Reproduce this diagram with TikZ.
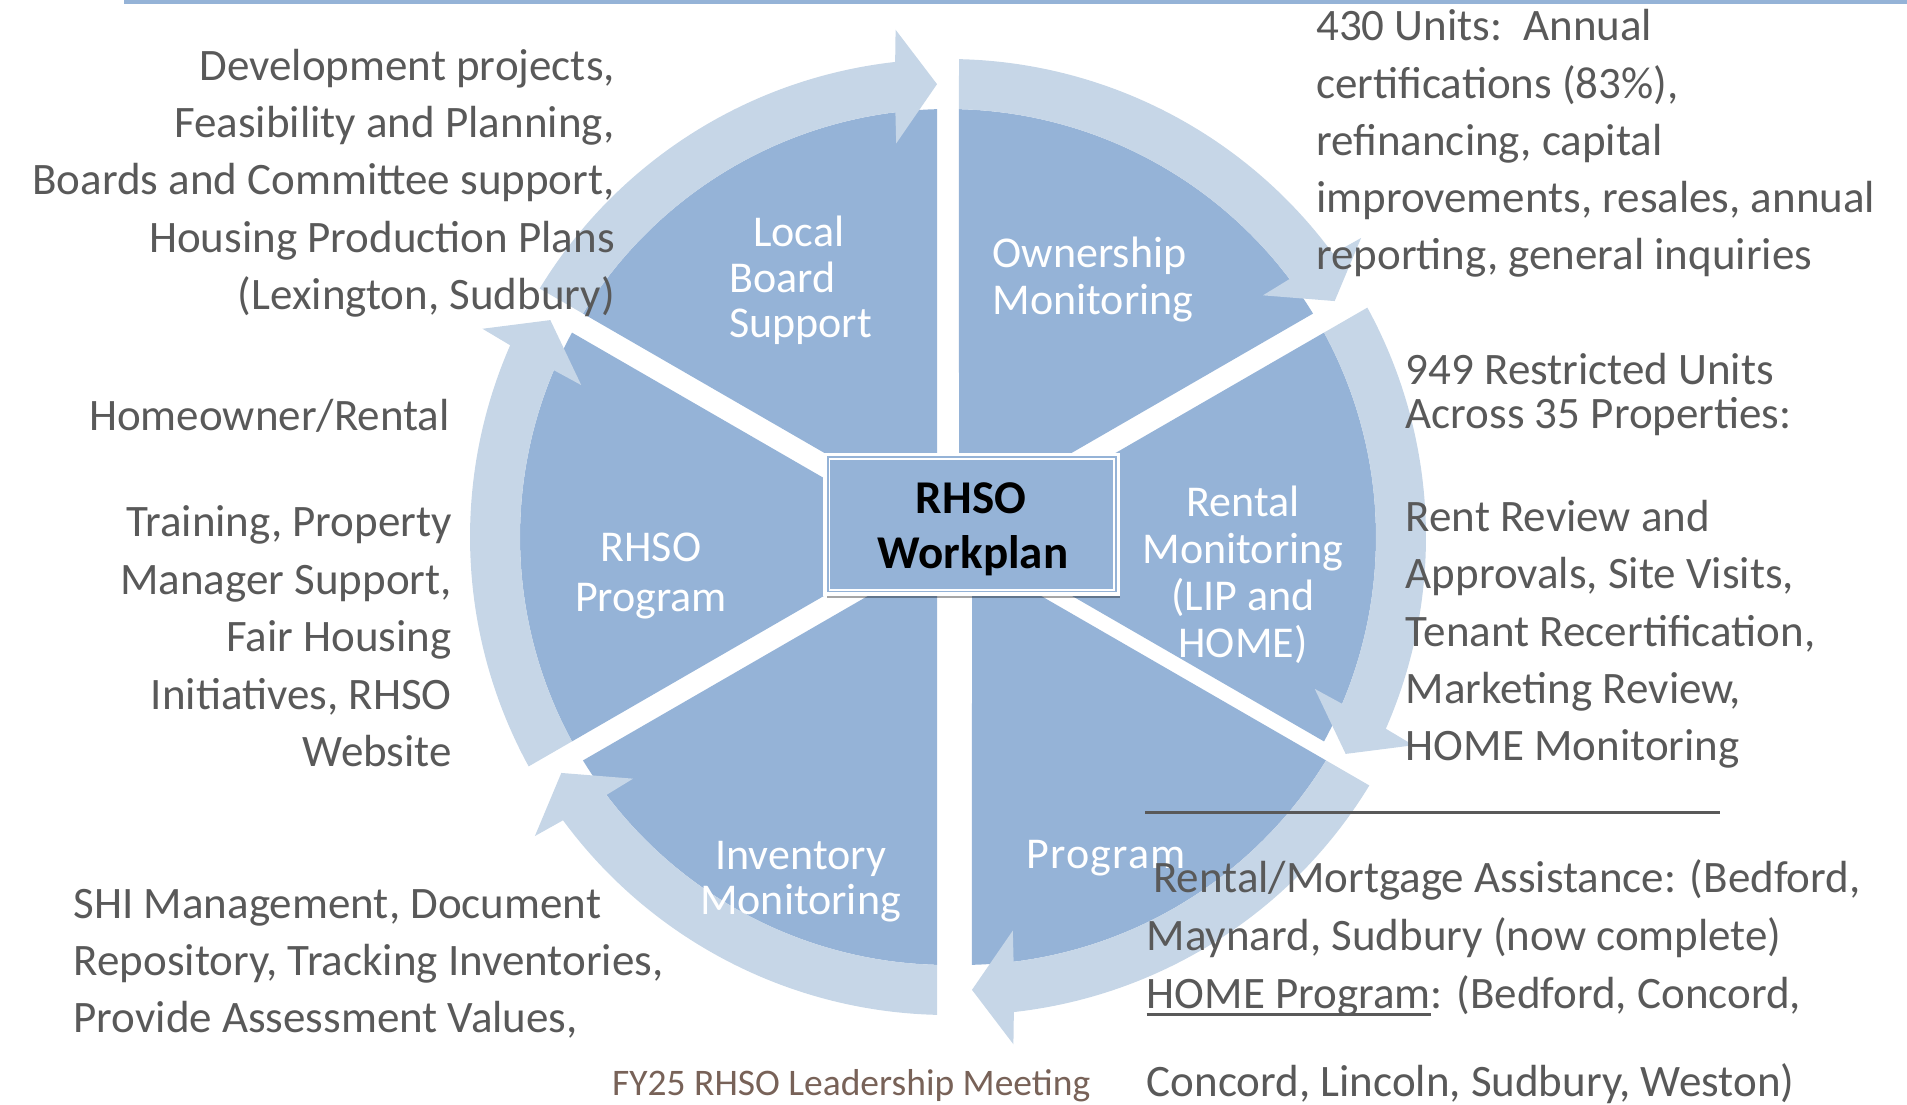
\documentclass[tikz,border=0pt]{standalone}
\usepackage{fontspec}
\setmainfont{Carlito}
\newfontfamily\spacedfont[LetterSpace=3]{Carlito}
\usetikzlibrary{calc,shadows}

\definecolor{sect}{RGB}{149,179,215}
\definecolor{arrowc}{RGB}{198,214,231}
\definecolor{txt}{RGB}{89,89,89}
\definecolor{foot}{RGB}{120,98,88}

% #1 = centre coordinate, #2 = angle of the head end of the segment
\newcommand{\ringsector}[2]{%
  \fill[sectorfill] ($(#1)+({#2+30}:22)$) -- ($(#1)+({#2+1.47}:428)$)
    arc[start angle={#2+1.47}, end angle={#2+58.53}, radius=428] -- cycle;}
\newcommand{\ringarrow}[2]{%
  \fill[arrowfill] ($(#1)+({#2+58.68}:478)$)
    arc[start angle={#2+58.68}, end angle={#2+6.35}, radius=478]
    -- ($(#1)+({#2+5.9}:510)$) -- ($(#1)+({#2+1.39}:453)$)
    -- ($(#1)+({#2+7.5}:397)$) -- ($(#1)+({#2+7.06}:428)$)
    arc[start angle={#2+7.06}, end angle={#2+58.53}, radius=428] -- cycle;}

\begin{document}
\begin{tikzpicture}[x=1pt,y=1pt,
  sectorfill/.style={fill=sect},
  arrowfill/.style={fill=arrowc},
  body/.style={text=txt, inner sep=0pt, font=\fontsize{45pt}{54pt}\selectfont},
  seclabel/.style={text=white, inner sep=0pt, font=\fontsize{44pt}{50pt}\selectfont},
  boxlabel/.style={text=black, inner sep=0pt, font=\fontsize{47pt}{52pt}\selectfont\bfseries},
]
\useasboundingbox (0,0) rectangle (1907,-1105);
\clip (0,0) rectangle (1907,-1105);

% top rule
\fill[sect] (124,0) rectangle (1907,-4);

% cycle
\coordinate (C) at (948,-537);
\coordinate (CP) at (961,-537);
\foreach \a in {30,90,150,210,330} {\ringsector{C}{\a}}
\ringsector{CP}{270}
\foreach \a in {30,90,150,210,330} {\ringarrow{C}{\a}}
\ringarrow{CP}{270}

% centre box
\node (box) at (971.7,-524.2) [fill=sect, draw=white, line width=3.5pt,
  minimum width=293.2pt, minimum height=139.5pt, inner sep=0pt,
  drop shadow={shadow xshift=2pt, shadow yshift=-4pt, opacity=0.35, fill=black}] {};
\draw[white, line width=1.7pt] ($(box.south west)+(6,6)$) rectangle ($(box.north east)+(-6,-6)$);
\node[boxlabel, anchor=base] (bt1) at (971,-513.3) {RHSO};
\node[boxlabel, anchor=base] (bt2) at (973,-568.3) {Workplan};

% segment labels
\node[seclabel, anchor=base west] (lb1) at (753,-246.4) {Local};
\node[seclabel, anchor=base west] (lb2) at (729,-292.9) {Board};
\node[seclabel, anchor=base west] (lb3) at (729,-337.5) {Support};
\node[seclabel, anchor=base west] (ow1) at (992.4,-267.9) {Ownership};
\node[seclabel, anchor=base west] (ow2) at (992.4,-314.3) {Monitoring};
\node[seclabel, anchor=base] (rm1) at (1243,-516) {Rental};
\node[seclabel, anchor=base] (rm2) at (1243,-563) {Monitoring};
\node[seclabel, anchor=base] (rm3) at (1243,-610.5) {(LIP and};
\node[seclabel, anchor=base] (rm4) at (1243,-657.3) {HOME)};
\node[seclabel, anchor=base] (rp1) at (651,-561.7) {RHSO};
\node[seclabel, anchor=base] (rp2) at (651,-611.7) {Program};
\node[seclabel, anchor=base] (iv1) at (800.7,-869.7) {Inventory};
\node[seclabel, anchor=base] (iv2) at (800.5,-914.8) {Monitoring};
\node[seclabel, anchor=base west, font=\fontsize{44pt}{50pt}\spacedfont] (pg1) at (1026,-868.3) {Program};

% upper left text
\node[body, anchor=base east] (ul1) at (615,-80.5) {Development projects,};
\node[body, anchor=base east] (ul2) at (615,-137.7) {Feasibility and Planning,};
\node[body, anchor=base east] (ul3) at (615,-194.9) {Boards and Committee support,};
\node[body, anchor=base east] (ul4) at (615,-252.1) {Housing Production Plans};
\node[body, anchor=base east] (ul5) at (615,-309.3) {(Lexington, Sudbury)};

% left text
\node[body, anchor=base east] (l0) at (450,-430.4) {Homeowner/Rental};
\node[body, anchor=base east] (l1) at (452,-536.5) {Training, Property};
\node[body, anchor=base east] (l2) at (452,-594) {Manager Support,};
\node[body, anchor=base east] (l3) at (452,-651.6) {Fair Housing};
\node[body, anchor=base east] (l4) at (452,-709.2) {Initiatives, RHSO};
\node[body, anchor=base east] (l5) at (452,-766.8) {Website};

% lower left text
\node[body, anchor=base west] (ll1) at (73.5,-918.4) {SHI Management, Document};
\node[body, anchor=base west] (ll2) at (73.5,-975.4) {Repository, Tracking Inventories,};
\node[body, anchor=base west] (ll3) at (73.5,-1032.4) {Provide Assessment Values,};

% upper right text
\node[body, anchor=base west] (ur1) at (1316,-41) {430 Units:\hspace{21pt}Annual};
\node[body, anchor=base west] (ur2) at (1316,-98.2) {certifications (83\%),};
\node[body, anchor=base west] (ur3) at (1316,-155.4) {refinancing, capital};
\node[body, anchor=base west] (ur4) at (1316,-212.6) {improvements, resales, annual};
\node[body, anchor=base west] (ur5) at (1316,-269.8) {reporting, general inquiries};

% right text
\node[body, anchor=base west] (r1) at (1405.6,-384) {949 Restricted Units};
\node[body, anchor=base west] (r2) at (1405.6,-428.6) {Across 35 Properties:};
\node[body, anchor=base west] (r3) at (1405.6,-531.4) {Rent Review and};
\node[body, anchor=base west] (r4) at (1405.6,-588.7) {Approvals, Site Visits,};
\node[body, anchor=base west] (r5) at (1405.6,-646) {Tenant Recertification,};
\node[body, anchor=base west] (r6) at (1405.6,-703.3) {Marketing Review,};
\node[body, anchor=base west] (r7) at (1405.6,-760.6) {HOME Monitoring};

% separator
\coordinate (sepL) at (1145,-812.3);
\coordinate (sepR) at (1720,-812.3);
\draw[txt, line width=3.3pt] (sepL) -- (sepR);

% lower right text
\node[body, anchor=base west] (lr1) at (1153,-892) {Rental/Mortgage Assistance: (Bedford,};
\node[body, anchor=base west] (lr2) at (1146.5,-950.5) {Maynard, Sudbury (now complete)};
\node[body, anchor=base west] (lr3a) at (1146.5,-1008.5) {HOME Program};
\node[body, anchor=base west] (lr3b) at (lr3a.base east) {: (Bedford, Concord,};
\draw[txt, line width=2.6pt] ($(lr3a.base west)+(0,-6)$) -- ($(lr3a.base east)+(0,-6)$);
\node[body, anchor=base west] (lr4) at (1146.5,-1096.5) {Concord, Lincoln, Sudbury, Weston)};

% footer
\node[anchor=base west, text=foot, inner sep=0pt, font=\fontsize{37.5pt}{40pt}\selectfont] (foot) at (612,-1095.5) {FY25 RHSO Leadership Meeting};
\end{tikzpicture}
\end{document}
